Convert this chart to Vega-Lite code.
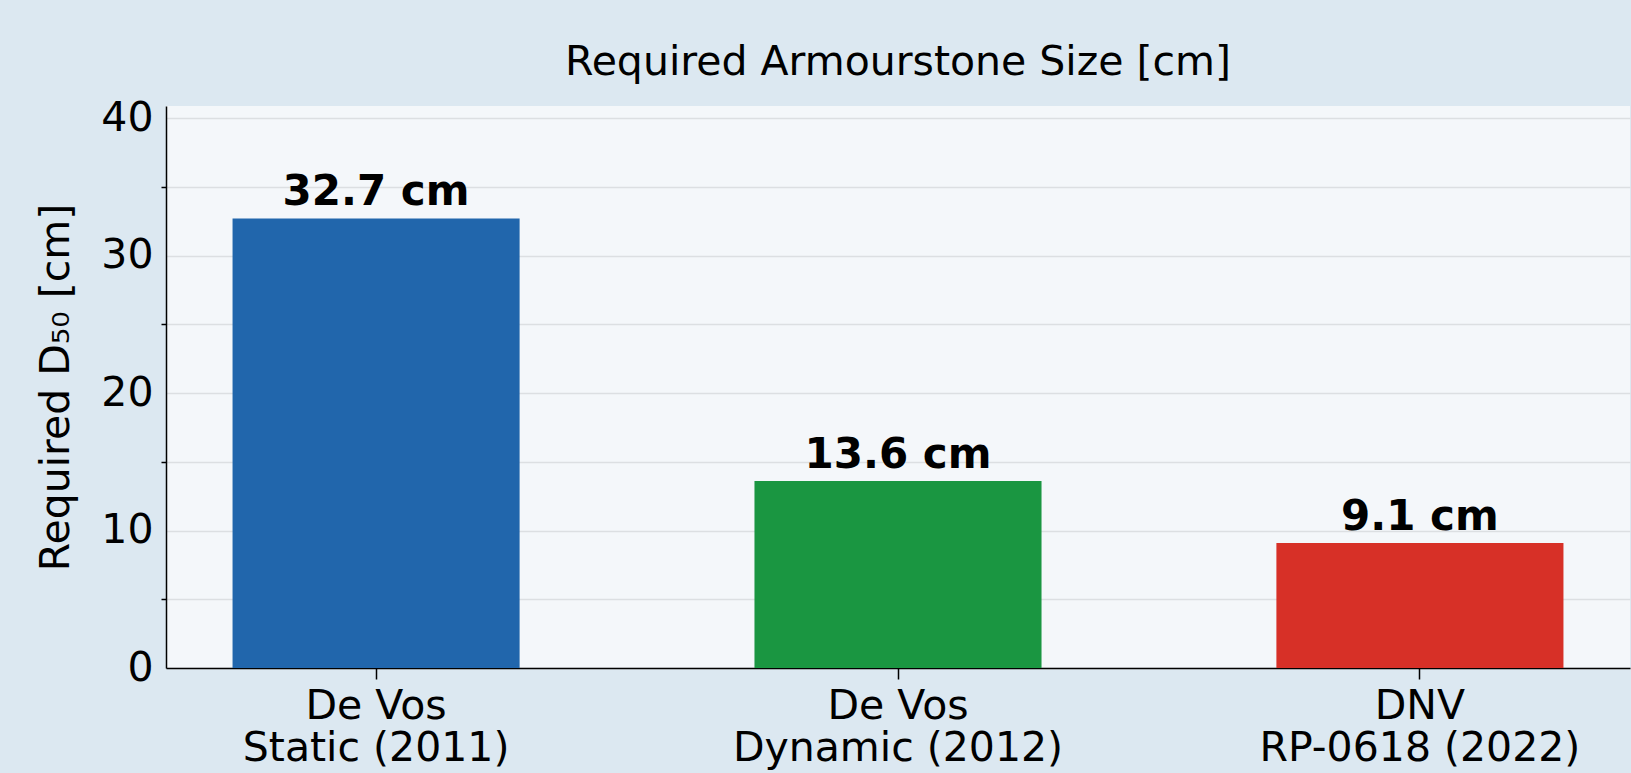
{
  "$schema": "https://vega.github.io/schema/vega-lite/v6.json",
  "width": 1464,
  "height": 562,
  "autosize": {"type": "none"},
  "padding": {"left": 166, "top": 106, "right": 1, "bottom": 105},
  "background": "#dce8f1",
  "title": {
    "text": "Required Armourstone Size [cm]",
    "font": "DejaVu Sans",
    "fontSize": 41,
    "fontWeight": "normal",
    "color": "#000000",
    "anchor": "middle",
    "offset": 13
  },
  "data": {
    "values": [
      {"method": "De Vos|Static (2011)", "d50": 32.7, "label": "32.7 cm"},
      {"method": "De Vos|Dynamic (2012)", "d50": 13.6, "label": "13.6 cm"},
      {"method": "DNV|RP-0618 (2022)", "d50": 9.1, "label": "9.1 cm"}
    ]
  },
  "encoding": {
    "x": {
      "field": "method",
      "type": "nominal",
      "sort": null,
      "scale": {"paddingInner": 0.45, "paddingOuter": 0.1275},
      "axis": {
        "title": null,
        "labelExpr": "split(datum.label, '|')",
        "labelAngle": 0,
        "labelLimit": 0,
        "labelFont": "DejaVu Sans",
        "labelFontSize": 41,
        "labelColor": "#000000",
        "labelLineHeight": 42,
        "labelPadding": 7,
        "labelBaseline": "top",
        "labelOverlap": false,
        "tickSize": 11,
        "tickColor": "#000000",
        "tickWidth": 1.5,
        "domainColor": "#000000",
        "domainWidth": 1.5,
        "grid": false
      }
    }
  },
  "layer": [
    {
      "mark": {"type": "bar"},
      "encoding": {
        "y": {
          "field": "d50",
          "type": "quantitative",
          "scale": {"domain": [0, 40.875], "nice": false, "zero": true},
          "axis": {
            "values": [0, 5, 10, 15, 20, 25, 30, 35, 40],
            "labelExpr": "datum.value % 10 === 0 ? datum.label : ''",
            "labelFont": "DejaVu Sans",
            "labelFontSize": 41,
            "labelColor": "#000000",
            "labelPadding": 8,
            "tickSize": 5,
            "tickColor": "#000000",
            "tickWidth": 1.5,
            "tickOpacity": {"condition": {"test": "datum.value % 10 === 0", "value": 0}, "value": 1},
            "grid": true,
            "gridColor": "#dcdfe2",
            "gridWidth": 1.5,
            "domainColor": "#000000",
            "domainWidth": 1.5,
            "title": "Required D₅₀ [cm]",
            "titleFont": "DejaVu Sans",
            "titleFontSize": 41,
            "titleFontWeight": "normal",
            "titleColor": "#000000",
            "titlePadding": 23
          }
        },
        "color": {
          "field": "method",
          "type": "nominal",
          "scale": {
            "domain": ["De Vos|Static (2011)", "De Vos|Dynamic (2012)", "DNV|RP-0618 (2022)"],
            "range": ["#2166ac", "#1a9641", "#d73027"]
          },
          "legend": null
        }
      }
    },
    {
      "mark": {
        "type": "text",
        "dy": -13,
        "baseline": "alphabetic",
        "font": "DejaVu Sans",
        "fontWeight": "bold",
        "fontSize": 42,
        "color": "#000000"
      },
      "encoding": {
        "y": {"field": "d50", "type": "quantitative"},
        "text": {"field": "label"}
      }
    }
  ],
  "config": {
    "view": {"fill": "#f4f7fa", "stroke": null}
  }
}
